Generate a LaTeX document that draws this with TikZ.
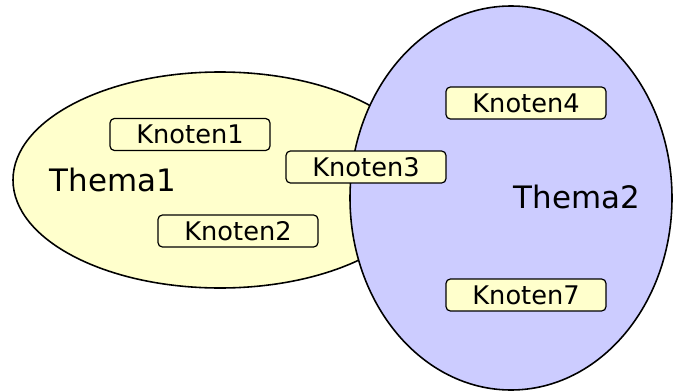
\documentclass[tikz,border=0pt]{standalone}
\usepackage{fontspec}
\setmainfont{DejaVu Sans}
\usepackage{tikz}
\usetikzlibrary{positioning}

\definecolor{gelb}{RGB}{255,255,204}
\definecolor{lila}{RGB}{204,204,255}

\tikzset{
  thema/.style={draw=black,line width=0.9pt},
  knoten/.style={draw=black,fill=gelb,rounded corners=2.5pt,line width=0.7pt,
    minimum width=3.2cm,minimum height=0.64cm,inner sep=0pt,
    font=\fontsize{14.6}{17}\selectfont},
  titel/.style={font=\fontsize{17.6}{21}\selectfont}
}

\begin{document}
\begin{tikzpicture}[x=0.02cm,y=-0.02cm]
                    \useasboundingbox (0,0) rectangle (673,392);

                    \draw[thema,fill=gelb] (220,180) ellipse [x radius=207,y radius=108];
                    \draw[thema,fill=lila] (511,198) ellipse [x radius=161,y radius=192];

                    \node[titel] (thema1) at (113,180) {Thema1};
                    \node[titel] (thema2) at (577,197) {Thema2};

                    \node[knoten] (knoten1) at (190,134.5) {Knoten1};
                    \node[knoten] (knoten2) at (238,231) {Knoten2};
                    \node[knoten] (knoten3) at (366,167) {Knoten3};
                    \node[knoten] (knoten4) at (526,103) {Knoten4};
                    \node[knoten] (knoten7) at (526,295) {Knoten7};
                \end{tikzpicture}
\end{document}
